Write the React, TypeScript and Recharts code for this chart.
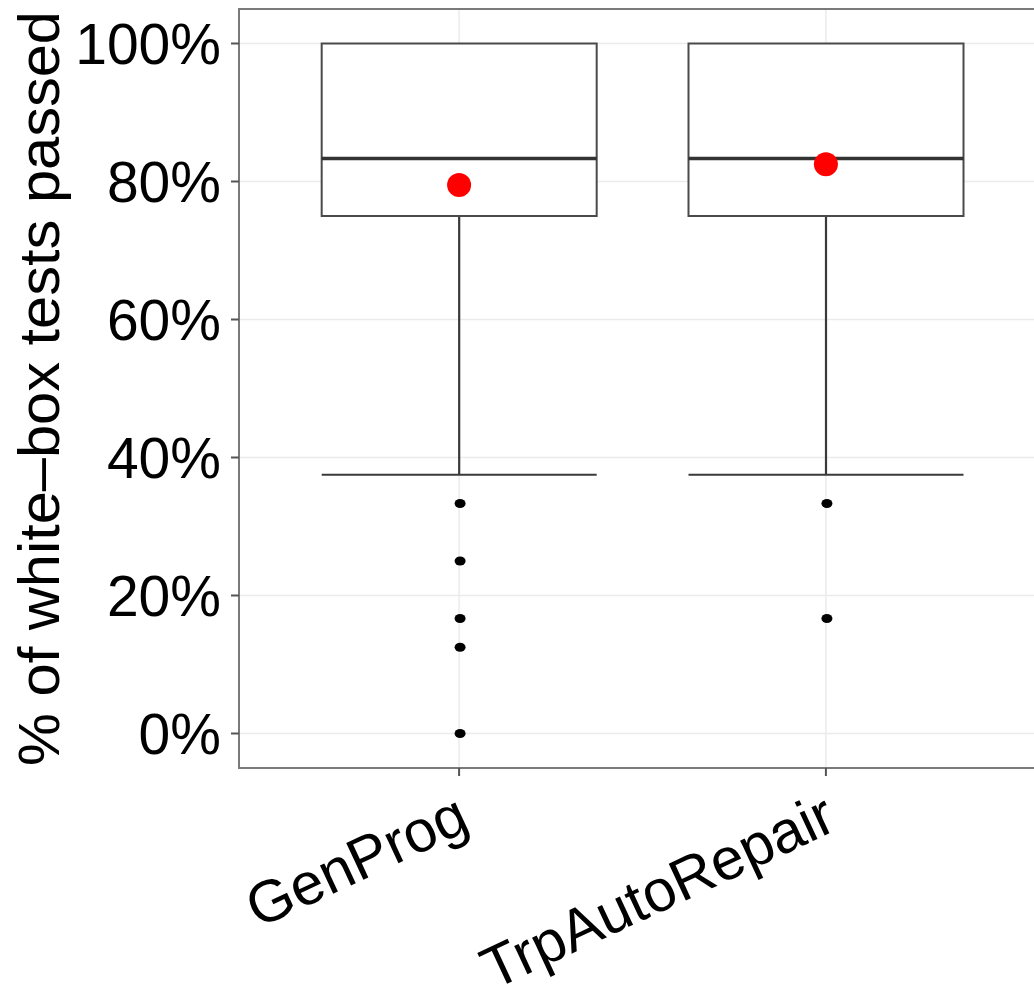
import { ComposedChart, Bar, Scatter, XAxis, YAxis, CartesianGrid, ReferenceArea } from 'recharts';

const categories = ['GenProg', 'TrpAutoRepair'];
const lowerWhisker = [37.5, 37.5];
const q1 = [75, 75];
const median = [83.33, 83.33];
const q3 = [100, 100];
const means = [79.5, 82.5];
const genProgOutliers = [33.33, 25, 16.67, 12.5, 0];
const trpOutliers = [33.33, 16.67];
const yTicks = [0, 20, 40, 60, 80, 100];
const yMinorTicks = [10, 30, 50, 70, 90];

const FONT = '"Liberation Sans", Arial, Helvetica, sans-serif';
const BOX_WIDTH = 275;

const data = categories.map((name, i) => ({
  x: i + 1,
  name,
  whisker: [lowerWhisker[i], q1[i]],
  box: [q1[i], q3[i]],
}));

const medianData = categories.map((_, i) => ({ x: i + 1, y: median[i] }));
const meanData = categories.map((_, i) => ({ x: i + 1, y: means[i] }));
const outlierData = [
  ...genProgOutliers.map(v => ({ x: 1, y: v })),
  ...trpOutliers.map(v => ({ x: 2, y: v })),
];

const BoxShape = (props: any) => {
  const { x, y, width, height } = props;
  return <rect x={x} y={y} width={width} height={height} fill="#fff" stroke="#4a4a4a" strokeWidth={2} />;
};

const WhiskerShape = (props: any) => {
  const { x, y, width, height } = props;
  const cx = x + width / 2;
  return (
    <g stroke="#3a3a3a" strokeWidth={2.2}>
      <line x1={cx} y1={y} x2={cx} y2={y + height} />
      <line x1={x} y1={y + height} x2={x + width} y2={y + height} />
    </g>
  );
};

const MedianShape = (props: any) => {
  const { cx, cy } = props;
  return <line x1={cx - BOX_WIDTH / 2} y1={cy} x2={cx + BOX_WIDTH / 2} y2={cy} stroke="#333" strokeWidth={3.5} />;
};

const OutlierShape = (props: any) => {
  const { cx, cy } = props;
  return <ellipse cx={cx + 1} cy={cy} rx={5.5} ry={4.5} fill="#000" />;
};

const MeanShape = (props: any) => {
  const { cx, cy } = props;
  return <circle cx={cx} cy={cy} r={12} fill="#ff0000" />;
};

const XTick = (props: any) => {
  const { x, y, payload } = props;
  const px = x + 13;
  const py = y + 51;
  return (
    <text
      x={px}
      y={py}
      transform={`rotate(-25, ${px}, ${py})`}
      textAnchor="end"
      fontSize={59}
      fontFamily={FONT}
      fill="#000"
    >
      {categories[payload.value - 1]}
    </text>
  );
};

const YLabel = (props: any) => {
  const { viewBox } = props;
  const lx = 51;
  const ly = viewBox.y + viewBox.height / 2;
  return (
    <text
      x={lx}
      y={ly}
      transform={`rotate(-90, ${lx}, ${ly})`}
      textAnchor="middle"
      fontSize={58}
      fontFamily={FONT}
      fill="#000"
      textLength={755}
      lengthAdjust="spacingAndGlyphs"
    >
      % of white–box tests passed
    </text>
  );
};

export default function App() {
  return (
    <div style={{ padding: 8, background: '#fff' }}>
      <style>{'body { margin: 0; overflow: hidden; background: #fff; }'}</style>
      <ComposedChart width={1038} height={976} data={data} margin={{ top: 1, right: 0, bottom: 0, left: 0 }}>
        <CartesianGrid yAxisId="minor" vertical={false} stroke="#f4f4f4" strokeWidth={1.5} />
        <CartesianGrid stroke="#ebebeb" strokeWidth={1.5} />
        <XAxis
          type="number"
          dataKey="x"
          domain={[0.4, 2.6]}
          ticks={[1, 2]}
          interval={0}
          axisLine={false}
          tickSize={8}
          tickLine={{ stroke: '#555', strokeWidth: 2 }}
          tick={<XTick />}
          height={216}
        />
        <XAxis xAxisId="w" type="number" dataKey="x" domain={[0.4, 2.6]} hide />
        <YAxis
          type="number"
          domain={[-5, 105]}
          ticks={yTicks}
          interval={0}
          width={231}
          axisLine={false}
          tickSize={8}
          tickMargin={10}
          tickLine={{ stroke: '#555', strokeWidth: 2 }}
          tick={{ fontSize: 57, fill: '#000', fontFamily: FONT }}
          tickFormatter={(v: number) => `${v}%`}
          label={{ content: <YLabel /> }}
        />
        <YAxis yAxisId="minor" type="number" domain={[-5, 105]} ticks={yMinorTicks} interval={0} hide />
        <Bar xAxisId="w" dataKey="whisker" barSize={BOX_WIDTH} shape={<WhiskerShape />} isAnimationActive={false} />
        <Bar dataKey="box" barSize={BOX_WIDTH} shape={<BoxShape />} isAnimationActive={false} />
        <Scatter data={medianData} dataKey="y" shape={<MedianShape />} isAnimationActive={false} />
        <Scatter data={outlierData} dataKey="y" shape={<OutlierShape />} isAnimationActive={false} />
        <Scatter data={meanData} dataKey="y" shape={<MeanShape />} isAnimationActive={false} />
        <ReferenceArea x1={0.4} x2={2.6} y1={-5} y2={105} fill="none" stroke="#7a7a7a" strokeWidth={2} />
      </ComposedChart>
    </div>
  );
}
